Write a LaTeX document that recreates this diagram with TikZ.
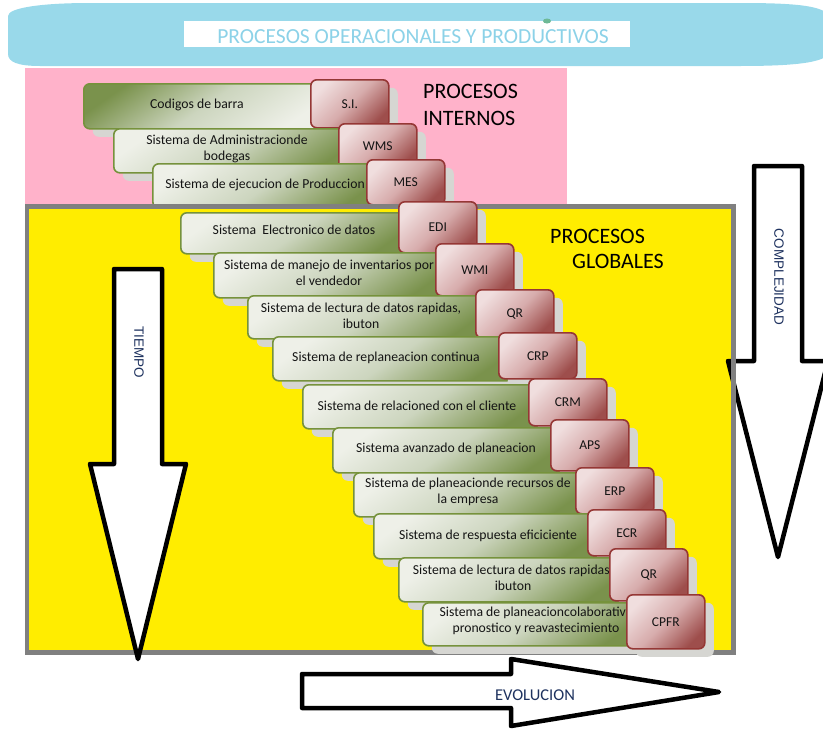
\documentclass[tikz,border=0pt]{standalone}
\usepackage{fontspec}
\setmainfont{Carlito}
\newfontfamily\arrowfont{Liberation Sans}
\usetikzlibrary{shadows}

\definecolor{bannercyan}{RGB}{153,217,234}
\definecolor{bannertext}{RGB}{140,210,232}
\definecolor{pinkbg}{RGB}{255,178,202}
\definecolor{yellowbg}{RGB}{255,237,0}
\definecolor{framegray}{RGB}{128,128,128}
\definecolor{gLight}{RGB}{238,240,232}
\definecolor{gMid}{RGB}{204,213,190}
\definecolor{gDark}{RGB}{122,146,76}
\definecolor{gBorder}{RGB}{118,146,60}
\definecolor{rLight}{RGB}{240,222,222}
\definecolor{rMid}{RGB}{215,172,172}
\definecolor{rDark}{RGB}{158,78,76}
\definecolor{rBorder}{RGB}{149,55,53}
\definecolor{shadowgray}{RGB}{214,214,210}
\definecolor{txtdark}{RGB}{20,20,20}
\definecolor{navy}{RGB}{30,50,95}
\definecolor{dotgreen}{RGB}{110,185,150}

\tikzset{
  shd/.style={drop shadow={shadow xshift=9pt, shadow yshift=-8pt, fill=shadowgray, opacity=1, draw=none}},
  gbox/.style={shd, rounded corners=6pt, draw=gBorder, line width=1.6pt, inner sep=0pt, anchor=north west,
    top color=gLight, bottom color=gDark, middle color=gMid, shading angle=35},
  gboxrev/.style={gbox, shading angle=215},
  rbox/.style={shd, rounded corners=6pt, draw=rBorder, line width=1.6pt, inner sep=0pt, anchor=north west,
    minimum width=78, top color=rLight, bottom color=rDark, middle color=rMid, shading angle=45,
    text=txtdark, font=\fontsize{13.5}{16}\selectfont},
  rowtext/.style={font=\fontsize{13.7}{16}\selectfont, text=txtdark, align=center, inner sep=0pt},
  bigtitle/.style={font=\fontsize{22}{25}\selectfont, text=black, inner sep=0pt, anchor=base west},
  blockarrow/.style={draw=black, fill=white, line width=4.5pt, line join=round},
  arrowlabel/.style={font=\arrowfont\fontsize{13.5}{16}\selectfont, text=navy, inner sep=0pt},
}

\begin{document}
\begin{tikzpicture}[x=1pt, y=-1pt]
\useasboundingbox (0,0) rectangle (823,734);
\clip (0,0) rectangle (823,734);

% title banner
\fill[bannercyan] (90,3) -- (740,3) .. controls (800,3) and (830,6) .. (830,20) -- (830,50)
  .. controls (830,62) and (800,66) .. (740,66) -- (40,66) .. controls (18,66) and (8,62) .. (8,54)
  -- (8,16) .. controls (8,8) and (40,3) .. (90,3) -- cycle;
\node[fill=white, minimum width=446, minimum height=26, inner sep=0pt] (titlebox) at (407,34) {};
\fill[dotgreen] (547,21) ellipse [x radius=4, y radius=2.5];
\node[font=\fontsize{21.5}{24}\selectfont, text=bannertext, inner sep=0pt] (title) at (413,37)
  {PROCESOS OPERACIONALES Y PRODUCTIVOS};

% internal processes
\fill[pinkbg] (25,68) rectangle (567,205);
\node[bigtitle] (intA) at (423,98) {PROCESOS};
\node[bigtitle] (intB) at (423,125) {INTERNOS};

\node[gboxrev, minimum width=241, minimum height=45] (g1) at (83,83) {};
\node[rowtext] (t1) at (197,105) {Codigos de barra};
\node[rbox, minimum height=48] (r1) at (310,79) {S.I.};

\node[gbox, minimum width=239, minimum height=44] (g2) at (113,128) {};
\node[rowtext] (t2) at (227,149) {Sistema de Administracionde\\bodegas};
\node[rbox, minimum height=45] (r2) at (338,123) {WMS};

\node[gbox, minimum width=228, minimum height=44] (g3) at (152,163) {};
\node[rowtext] (t3) at (265,185) {Sistema de ejecucion de Produccion};
\node[rbox, minimum height=45] (r3) at (366,159) {MES};

% global processes
\fill[yellowbg] (27,206.5) rectangle (733.5,652.5);

\draw[blockarrow] (754,166) -- (802,166) -- (802,361) -- (828,361) -- (778,557) -- (728,361) -- (754,361) -- cycle;
\node[arrowlabel, rotate=-90] (complejidad) at (779,277) {COMPLEJIDAD};

\draw[framegray, line width=4.5pt] (27,206.5) rectangle (733.5,652.5);

\draw[blockarrow] (114,269) -- (162,269) -- (162,464) -- (186,464) -- (138,659) -- (90,464) -- (114,464) -- cycle;
\node[arrowlabel, rotate=-90] (tiempo) at (139,352) {TIEMPO};

\node[bigtitle] (globA) at (550,243) {PROCESOS};
\node[bigtitle] (globB) at (572,268) {GLOBALES};

\node[gbox, minimum width=232, minimum height=41] (g4) at (180,212) {};
\node[rowtext] (t4) at (294,230) {Sistema\ \ Electronico de datos};
\node[rbox, minimum height=51] (r4) at (398,201) {EDI};

\node[gbox, minimum width=236, minimum height=45] (g5) at (213,252) {};
\node[rowtext] (t5) at (329,273) {Sistema de manejo de inventarios por\\el vendedor};
\node[rbox, minimum height=52] (r5) at (435,243) {WMI};

\node[gbox, minimum width=242, minimum height=43] (g6) at (247,295) {};
\node[rowtext] (t6) at (361,316) {Sistema de lectura de datos rapidas,\\ibuton};
\node[rbox, minimum height=48] (r6) at (475,289) {QR};

\node[gbox, minimum width=240, minimum height=44] (g7) at (272,336) {};
\node[rowtext] (t7) at (386,358) {Sistema de replaneacion continua};
\node[rbox, minimum height=46] (r7) at (498,332) {CRP};

\node[gbox, minimum width=240, minimum height=44] (g8) at (302,384) {};
\node[rowtext] (t8) at (417,406) {Sistema de relacioned con el cliente};
\node[rbox, minimum height=47] (r8) at (528,378) {CRM};

\node[gbox, minimum width=232, minimum height=45] (g9) at (332,427) {};
\node[rowtext] (t9) at (446,449) {Sistema avanzado de planeacion};
\node[rbox, minimum height=51] (r9) at (550,419) {APS};

\node[gbox, minimum width=236, minimum height=44] (g10) at (353,472) {};
\node[rowtext] (t10) at (468,492) {Sistema de planeacionde recursos de\\la empresa};
\node[rbox, minimum height=46] (r10) at (575,467) {ERP};

\node[gbox, minimum width=228, minimum height=45] (g11) at (373,513) {};
\node[rowtext] (t11) at (488,536) {Sistema de respuesta eficiciente};
\node[rbox, minimum height=46] (r11) at (587,509) {ECR};

\node[gbox, minimum width=225, minimum height=44] (g12) at (398,557) {};
\node[rowtext] (t12) at (513,578) {Sistema de lectura de datos rapidas,\\ibuton};
\node[rbox, minimum height=52] (r12) at (609,548) {QR};

\node[gbox, minimum width=218, minimum height=43] (g13) at (422,602) {};
\node[rowtext] (t13) at (536,621) {Sistema de planeacioncolaborativa\\pronostico y reavastecimiento};
\node[rbox, minimum height=54] (r13) at (626,594) {CPFR};

% evolution arrow
\draw[blockarrow] (302,674) -- (511,674) -- (511,659) -- (719,692) -- (511,726) -- (511,708) -- (302,708) -- cycle;
\node[font=\fontsize{16.5}{19}\selectfont, text=navy, inner sep=0pt] (evolucion) at (535,695) {EVOLUCION};
\end{tikzpicture}
\end{document}
